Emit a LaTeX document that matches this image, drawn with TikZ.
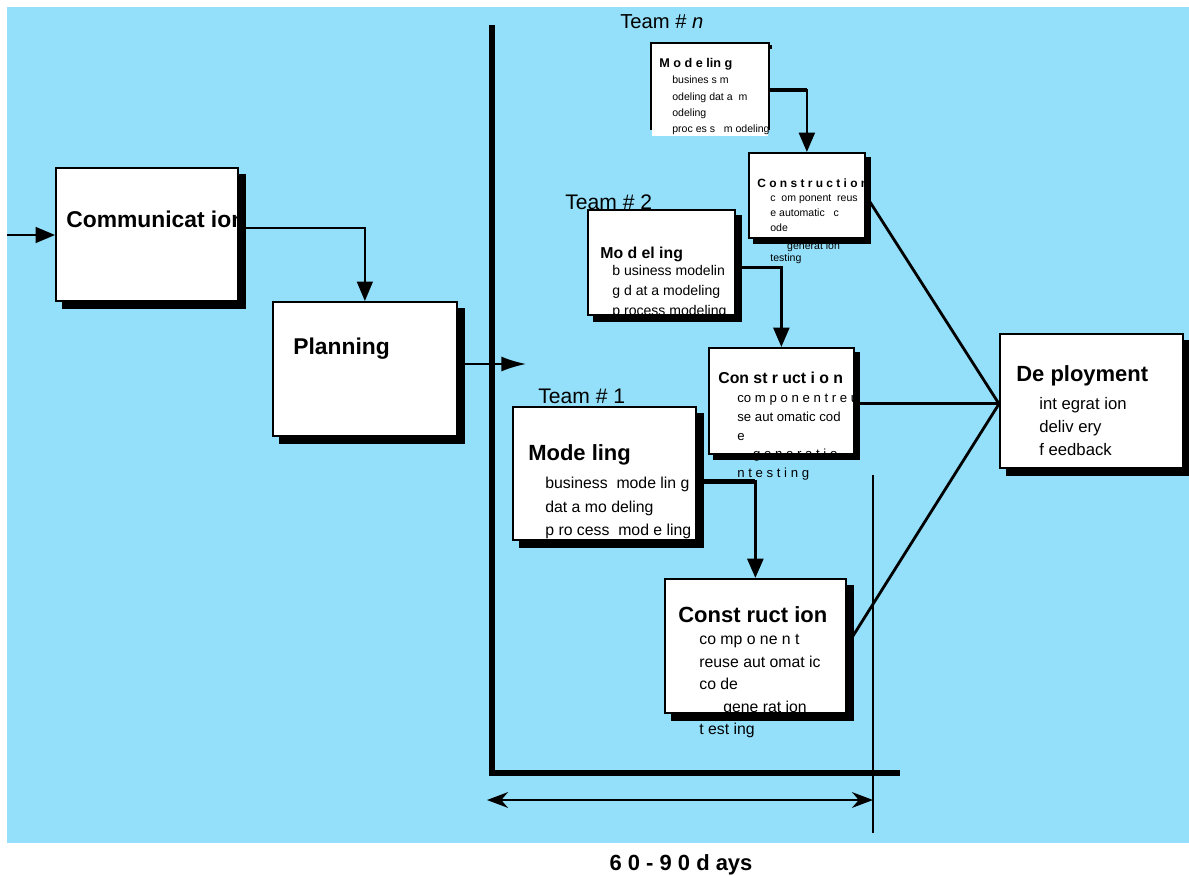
\documentclass[tikz,border=0pt]{standalone}
\usepackage{fontspec}
\setmainfont{Liberation Sans}
\usepackage{xcolor}
\usepackage{tikz}
\usetikzlibrary{arrows.meta,positioning}

\definecolor{skyfill}{RGB}{148,224,250}

% solid shadow strip on the right and below a box
\newcommand{\castshadow}[2]{%
  \fill ([shift={(0,#2)}]#1.north east) rectangle ([shift={(#2,#2)}]#1.south east);
  \fill ([shift={(#2,0)}]#1.south west) rectangle ([shift={(#2,#2)}]#1.south east);}

\begin{document}
\begin{tikzpicture}[x=0.02cm,y=-0.02cm,
  stagebox/.style={draw,fill=white,line width=1pt,inner sep=0,anchor=north west},
  title/.style={anchor=base west,inner sep=0,font=\fontsize{#1}{#1}\selectfont\bfseries},
  notes/.style 2 args={anchor=north west,inner sep=0,align=left,font=\fontsize{#1}{#2}\selectfont},
  team/.style={anchor=base west,inner sep=0,font=\fontsize{12}{14}\selectfont},
  flow/.style={-{Triangle[length=11pt,width=9pt]}},
  feed/.style={line width=1.6pt}]
\useasboundingbox (0,0) rectangle (1189,875);
\fill[skyfill] (7,7) rectangle (1189,843);

% time axis
\coordinate (top) at (492,25);
\coordinate (corner) at (492,773);
\coordinate (tail) at (900,773);
\coordinate (limtop) at (873,475);
\coordinate (limbot) at (873,833);
\coordinate (spanL) at (487,800);
\coordinate (spanR) at (873,800);
\draw[line width=3.4pt] (top) -- (corner) -- (tail);
\draw[line width=0.8pt] (limtop) -- (limbot);
\draw[{Stealth[length=12pt,width=9pt]}-{Stealth[length=12pt,width=9pt]},line width=0.8pt] (spanL) -- (spanR);
\node[font=\fontsize{12.5}{14}\selectfont\bfseries,anchor=base] (span) at (681,870) {6 0 - 9 0 d ays};

% team labels
\node[team] (tagA) at (538,403) {Team \# 1};
\node[team] (tagB) at (565,209) {Team \# 2};
\node[team,font=\fontsize{11.5}{14}\selectfont] (tagN) at (620,29) {Team \# \textit{n}};

% boxes
\node[stagebox,minimum width=3.64cm,minimum height=2.66cm] (comm) at (55,167) {};
\node[stagebox,minimum width=3.68cm,minimum height=2.68cm] (plan) at (272,301) {};
\node[stagebox,minimum width=3.66cm,minimum height=2.66cm] (modA) at (512,406) {};
\node[stagebox,minimum width=3.62cm,minimum height=2.68cm] (conA) at (664,578) {};
\node[stagebox,minimum width=2.94cm,minimum height=2.10cm] (modB) at (587,209) {};
\node[stagebox,minimum width=2.90cm,minimum height=2.12cm] (conB) at (708,347) {};
\node[stagebox,draw=none,minimum width=2.32cm,minimum height=1.84cm] (modN) at (651,43) {};
\node[stagebox,minimum width=2.32cm,minimum height=1.70cm] (conN) at (748,152) {};
\node[stagebox,minimum width=3.66cm,minimum height=2.68cm] (dep) at (999,333) {};
\draw[line width=1pt] ([yshift=0.14cm]modN.south west) |- (modN.north east) -- ([yshift=0.14cm]modN.south east);

% box texts
\node[title=13] (commT) at ([shift={(11,60)}]comm.north west) {Communicat ion};
\node[title=13] (planT) at ([shift={(21,53)}]plan.north west) {Planning};

\node[title=12.5] (modAT) at ([shift={(16,54)}]modA.north west) {Mode ling};
\node[notes={9}{13.3}] (modAL) at ([shift={(33,71)}]modA.north west)
  {business\ \ mode lin g\\dat a mo deling\\p ro cess\ \ mod e ling};
\node[title=12.5] (conAT) at ([shift={(14,44)}]conA.north west) {Const ruct ion};
\node[notes={9}{12.8}] (conAL) at ([shift={(35,56)}]conA.north west)
  {co mp o ne n t\\reuse aut omat ic\\co de\\\hspace*{13.6pt}gene rat ion\\t est ing};

\node[title=9] (modBT) at ([shift={(13,49)}]modB.north west) {Mo d el ing};
\node[notes={8}{11.3}] (modBL) at ([shift={(25,56)}]modB.north west)
  {b usiness modelin\\g d at a modeling\\p rocess modeling};
\node[title=9] (conBT) at ([shift={(10,36)}]conB.north west) {Con st r uct i o n};
\node[notes={7.5}{10.6}] (conBL) at ([shift={(29,47)}]conB.north west)
  {co m p o n e n t r e u\\se aut omatic cod\\e\\\hspace*{9pt}g e n e r a t i o\\n t e s t i n g};

\node[title=7.2] (modNT) at ([shift={(8,25)}]modN.north west) {M o d e lin g};
\node[notes={6}{9.2}] (modNL) at ([shift={(21,33)}]modN.north west)
  {busines s m\\odeling dat a\ \ m\\odeling\\proc es s\ \ \ m odeling};
\node[title=6.8] (conNT) at ([shift={(9,35)}]conN.north west) {C o n s t r u c t i o n};
\node[notes={6}{8.6}] (conNL) at ([shift={(22,42)}]conN.north west)
  {c\ \ om ponent\ \ reus\\e automatic\ \ \ c\\ode\\[1.6pt]\hspace*{9.6pt}generat ion\\[-1.6pt]testing};

\node[title=12.5] (depT) at ([shift={(17,48)}]dep.north west) {De ployment};
\node[notes={9.5}{13}] (depL) at ([shift={(40,64)}]dep.north west)
  {int egrat ion\\deliv ery\\f eedback};

% shadows
\foreach \b/\o in {comm/7,plan/7,modA/7,conA/7,dep/7,modB/6,conB/5,conN/5}
  {\castshadow{\b}{\o}}
\fill ([shift={(0,2)}]modN.north east) rectangle ([shift={(3,6)}]modN.north east);

% connectors
\coordinate (entry) at (7,235);
\draw[flow,line width=1pt] (entry) -- (entry -| comm.west);
\draw[flow,line width=1pt] ([yshift=0.13cm]comm.east) -| (plan.north);
\coordinate (gate) at (526,364);
\draw[-{Latex[length=14pt,width=8.5pt]},line width=1pt] (plan.east |- gate) -- (gate);

\coordinate (outA) at ([yshift=-0.17cm]modA.east);
\draw[flow,line width=1.8pt] (outA) -| (conA.north);
\draw[line width=2.8pt] (outA) -- (outA -| conA.north);
\coordinate (outB) at ([yshift=-0.11cm]modB.east);
\draw[flow,line width=1.6pt] (outB) -| (conB.north);
\coordinate (outN) at (modN.east);
\draw[flow,line width=1.5pt] (outN) -| (conN.north);
\draw[line width=2.6pt] (outN) -- (outN -| conN.north);

\coordinate (hub) at ([yshift=-0.06cm]dep.west);
\draw[feed] (conN.east) -- (hub);
\draw[feed] (conB.east |- hub) -- (hub);
\draw[feed] (conA.east) -- (hub);
\end{tikzpicture}
\end{document}
